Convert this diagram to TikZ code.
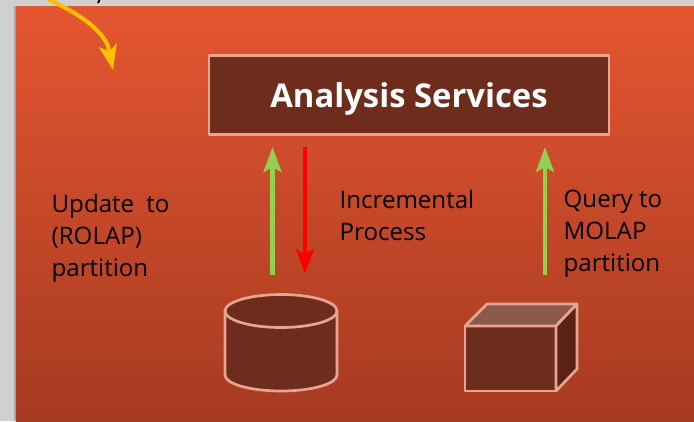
\documentclass[tikz,border=0pt]{standalone}
\usepackage{fontspec}
\setmainfont{Open Sans}
\usetikzlibrary{arrows.meta}
\definecolor{pagegray}{RGB}{208,208,208}
\definecolor{paneltop}{RGB}{228,86,48}
\definecolor{panelbot}{RGB}{166,58,33}
\definecolor{darkfill}{RGB}{110,44,28}
\definecolor{edgepink}{RGB}{232,164,146}
\definecolor{topface}{RGB}{140,90,74}
\definecolor{sideface}{RGB}{88,35,20}
\definecolor{arrowgreen}{RGB}{146,208,80}
\definecolor{arrowgold}{RGB}{255,192,0}
\tikzset{
  x=1pt,y=-1pt,
  solid shape/.style={draw=edgepink,line width=2.7pt,line join=round},
  bigarrow/.style={line width=#1,-{Stealth[length=25pt,width=18pt,inset=5pt]}},
  bodytext/.style={font=\fontsize{24.1}{32}\selectfont,align=left,text=black,inner sep=0pt,anchor=north west},
}
\begin{document}
\begin{tikzpicture}
\useasboundingbox (0,0) rectangle (694,421);
\fill[pagegray] (0,0) rectangle (694,421);
\fill[black!35] (14,6) rectangle (16,421);
\shade[top color=paneltop,bottom color=panelbot] (16,6) rectangle (694,421);
% fragment of text cut at the top edge
\draw[black,line width=2pt] (99.5,0) -- (98,3);
% gold arrow
\coordinate (goldA) at (48,-1);
\coordinate (goldB) at (113,70);
\draw[arrowgold,line width=4pt,-{Stealth[length=25pt,width=18pt,inset=6pt]}] (goldA) .. controls (75,12) and (100,27) .. (108,46) -- (goldB);
% main box
\node[solid shape,fill=darkfill,minimum width=400pt,minimum height=79pt,inner sep=0pt,text=white,font=\fontsize{32.8}{36}\selectfont\bfseries] (svc) at (409,95) {\smash{\raisebox{-12.5pt}{Analysis Services}}};
% arrows
\coordinate (g1a) at (272.5,275); \coordinate (g1b) at (272.5,147);
\coordinate (r1a) at (305,147);   \coordinate (r1b) at (305,274);
\coordinate (g2a) at (545,275);   \coordinate (g2b) at (545,147);
\draw[arrowgreen,bigarrow=4.5pt] (g1a) -- (g1b);
\draw[red,bigarrow=4.5pt] (r1a) -- (r1b);
\draw[arrowgreen,bigarrow=4pt] (g2a) -- (g2b);
% labels
\node[bodytext] (lu) at (51.5,194) {Update\hspace{6pt} to\\(ROLAP)\\partition};
\node[bodytext] (li) at (339.5,190) {Incremental\\Process};
\node[bodytext] (lq) at (563.5,190) {Query to\\MOLAP\\partition};
% cylinder
\draw[solid shape,fill=darkfill] (225,311) -- (225,375) arc[start angle=180,end angle=360,x radius=56,y radius=-16] -- (337,311) arc[start angle=0,end angle=180,x radius=56,y radius=-16.5] -- cycle;
\draw[solid shape] (225,311) arc[start angle=180,end angle=360,x radius=56,y radius=-16.5];
% cube
\draw[solid shape,fill=darkfill] (465,326) rectangle (556,391);
\draw[solid shape,fill=topface] (465,326) -- (487,304) -- (577,304) -- (556,326) -- cycle;
\draw[solid shape,fill=sideface] (556,326) -- (577,304) -- (577,369) -- (556,391) -- cycle;
\end{tikzpicture}
\end{document}
